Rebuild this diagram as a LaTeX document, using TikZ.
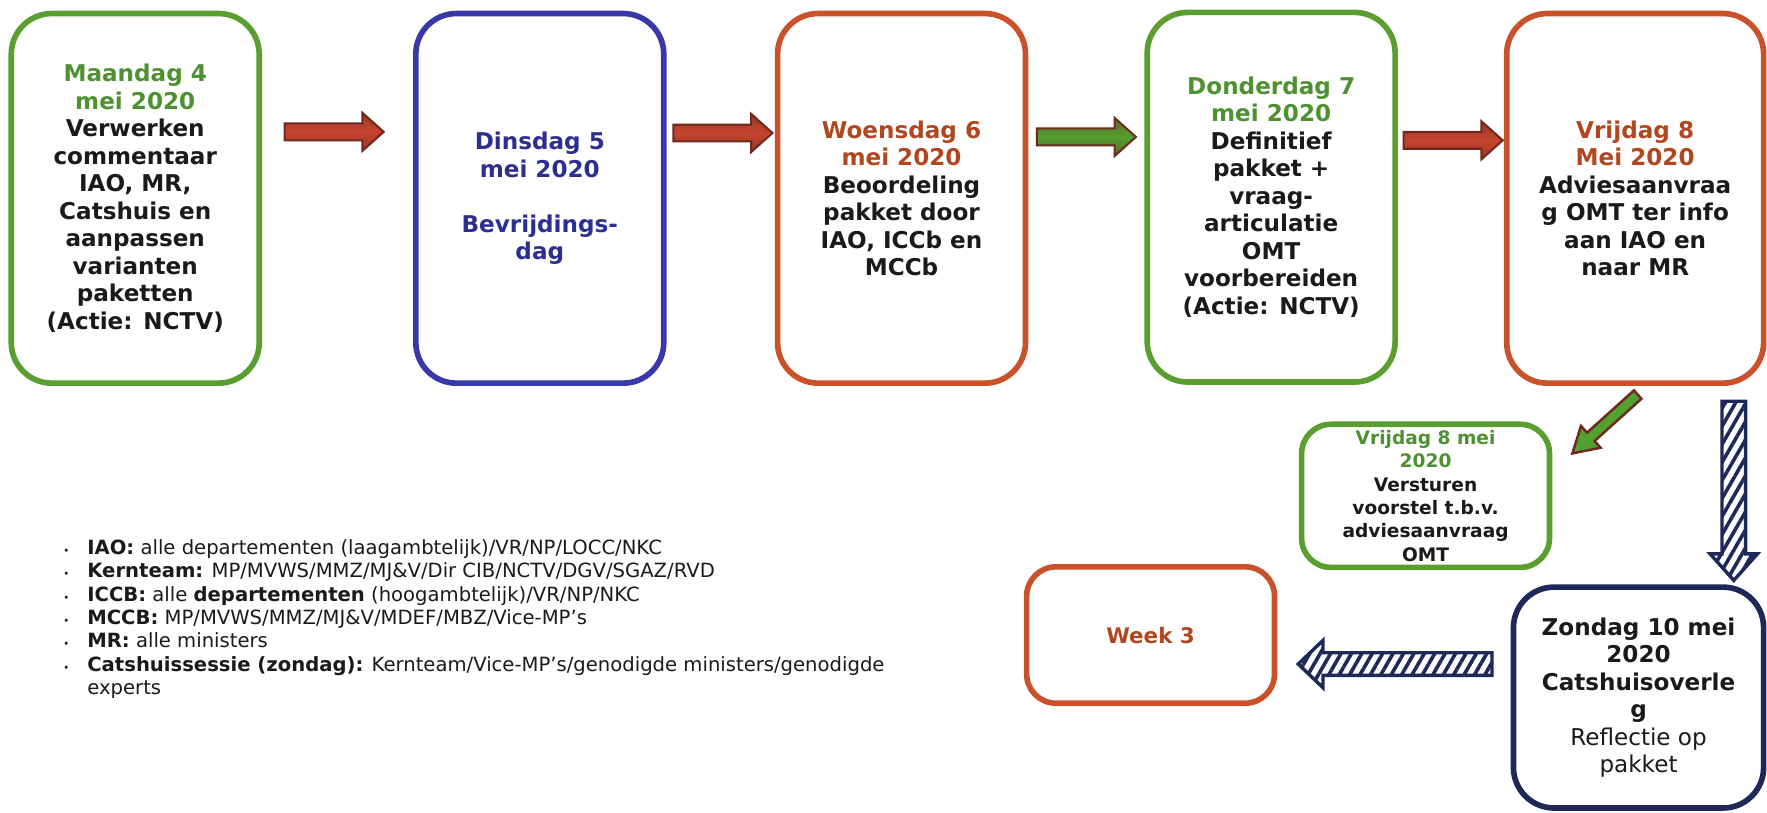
\documentclass[tikz,border=0pt]{standalone}
\usepackage{fontspec}
\setmainfont{DejaVu Sans}
\usetikzlibrary{calc,patterns.meta}
\definecolor{grn}{HTML}{5A9E2F}
\definecolor{grntxt}{HTML}{4E9130}
\definecolor{blu}{HTML}{3838A8}
\definecolor{blutxt}{HTML}{2D2E92}
\definecolor{org}{HTML}{C9522B}
\definecolor{orgtxt}{HTML}{B2461E}
\definecolor{navy}{HTML}{1E2859}
\definecolor{txt}{HTML}{1A1A1A}
\definecolor{arrred}{HTML}{C8452F}
\definecolor{arrdark}{HTML}{6E2A1F}
\definecolor{arrgrn}{HTML}{52A030}
\newcommand\blockarrow[7]{%
  \begin{scope}[shift={#2}, rotate=#3]
    \draw[#1] (-#4/2,-#5) -- (#4/2-#7,-#5) -- (#4/2-#7,-#6) -- (#4/2,0)
      -- (#4/2-#7,#6) -- (#4/2-#7,#5) -- (-#4/2,#5) -- cycle;
  \end{scope}}
\begin{document}
\begin{tikzpicture}[x=1pt,y=-1pt,
  daybox/.style={draw, line width=5pt, rounded corners=36pt, align=center,
    inner sep=0pt, text=txt, minimum width=220pt, minimum height=328pt,
    font=\bfseries\fontsize{20.5}{24.4}\selectfont},
  smallbox/.style={draw, line width=5pt, rounded corners=26pt, align=center,
    inner sep=0pt, text=txt},
  redarrow/.style={draw=arrdark, line width=1.8pt, top color=arrdark!60!arrred,
    bottom color=arrdark!60!arrred, middle color=arrred},
  grnarrow/.style={draw=arrdark, line width=1.8pt, top color=arrdark!50!arrgrn,
    bottom color=arrdark!50!arrgrn, middle color=arrgrn},
  diagarrow/.style={draw=arrdark, line width=2.2pt, fill=arrgrn},
  hatcharrow/.style={draw=navy, line width=3pt, preaction={fill=white},
    pattern={Lines[angle=60,distance=8pt,line width=3.2pt]}, pattern color=navy}]
\fill[white] (0,0) rectangle (1568,721);
\clip (0,0) rectangle (1568,721);

% top row
\node[daybox, draw=grn] (b1) at (120,176) {\textcolor{grntxt}{Maandag 4}\\\textcolor{grntxt}{mei 2020}\\Verwerken\\commentaar\\IAO, MR,\\Catshuis en\\aanpassen\\varianten\\paketten\\(Actie: NCTV)};
\node[daybox, draw=blu, text=blutxt] (b2) at (479,176) {Dinsdag 5\\mei 2020\\\mbox{}\\Bevrijdings-\\dag};
\node[daybox, draw=org] (b3) at (800,176) {\textcolor{orgtxt}{Woensdag 6}\\\textcolor{orgtxt}{mei 2020}\\Beoordeling\\pakket door\\IAO, ICCb en\\MCCb};
\node[daybox, draw=grn] (b4) at (1128,175) {\textcolor{grntxt}{Donderdag 7}\\\textcolor{grntxt}{mei 2020}\\Definitief\\pakket +\\vraag-\\articulatie\\OMT\\voorbereiden\\(Actie: NCTV)};
\node[daybox, draw=org, minimum width=228pt] (b5) at (1451,176) {\textcolor{orgtxt}{Vrijdag 8}\\\textcolor{orgtxt}{Mei 2020}\\Adviesaanvraa\\g OMT ter info\\aan IAO en\\naar MR};

% horizontal arrows
\blockarrow{redarrow}{($(b1.east)!.5!(b2.west)+(-3,-59)$)}{0}{88}{7.5}{17}{19}
\blockarrow{redarrow}{($(b2.east)!.5!(b3.west)+(2,-58)$)}{0}{88}{7.5}{17}{19}
\blockarrow{grnarrow}{($(b3.east)!.5!(b4.west)+(0,-54)$)}{0}{88}{7.5}{17}{19}
\blockarrow{redarrow}{($(b4.east)!.5!(b5.west)+(2,-51)$)}{0}{88}{7.5}{17}{19}

% small box
\node[smallbox, draw=grn, minimum width=220pt, minimum height=127pt,
  font=\bfseries\fontsize{16.5}{20.7}\selectfont] (sb) at (1265,440)
  {\textcolor{grntxt}{Vrijdag 8 mei}\\\textcolor{grntxt}{2020}\\Versturen\\voorstel t.b.v.\\adviesaanvraag\\OMT};
\blockarrow{diagarrow}{($(b5.south)!.5!(sb.north east)+(10,18)$)}{222}{78}{5}{13}{22}

% Zondag box
\node[smallbox, draw=navy, rounded corners=36pt, minimum width=222pt,
  minimum height=196pt, font=\fontsize{20.5}{24.4}\selectfont] (zb) at (1454,619)
  {\bfseries Zondag 10 mei\\\bfseries 2020\\\bfseries Catshuisoverle\\\bfseries g\\Reflectie op\\pakket};

% down hatched arrow
\begin{scope}[shift={($(b5.south)!.5!(zb.north)+(86,5)$)}]
  \draw[hatcharrow] (-10.5,-79.5) -- (10.5,-79.5) -- (10.5,56) -- (21,56) -- (0,79.5)
    -- (-21,56) -- (-10.5,56) -- cycle;
\end{scope}

% Week 3 box
\node[smallbox, draw=org, minimum width=220pt, minimum height=121pt,
  text=orgtxt, font=\bfseries\fontsize{19}{22}\selectfont] (wb) at (1021,563.5) {Week 3};

% left hatched arrow
\begin{scope}[shift={($(wb.east)!.5!(zb.west)+(1,-2)$)}]
  \draw[hatcharrow] (86,-10) -- (-64,-10) -- (-64,-21) -- (-86,0) -- (-64,21)
    -- (-64,10) -- (86,10) -- cycle;
\end{scope}

% legend
\node[anchor=base west, inner sep=0pt, text=txt,
  font=\fontsize{17.4}{20.7}\selectfont] (legend) at (56,492) {%
  \begin{tabular}[t]{@{}l@{\hspace{16pt}}l@{}}
  {\small •} & \textbf{IAO:} alle departementen (laagambtelijk)/VR/NP/LOCC/NKC\\
  {\small •} & \textbf{Kernteam:} MP/MVWS/MMZ/MJ\&V/Dir CIB/NCTV/DGV/SGAZ/RVD\\
  {\small •} & \textbf{ICCB:} alle \textbf{departementen} (hoogambtelijk)/VR/NP/NKC\\
  {\small •} & \textbf{MCCB:} MP/MVWS/MMZ/MJ\&V/MDEF/MBZ/Vice-MP’s\\
  {\small •} & \textbf{MR:} alle ministers\\
  {\small •} & \textbf{Catshuissessie (zondag):} Kernteam/Vice-MP’s/genodigde ministers/genodigde\\
   & experts
  \end{tabular}};
\end{tikzpicture}
\end{document}
